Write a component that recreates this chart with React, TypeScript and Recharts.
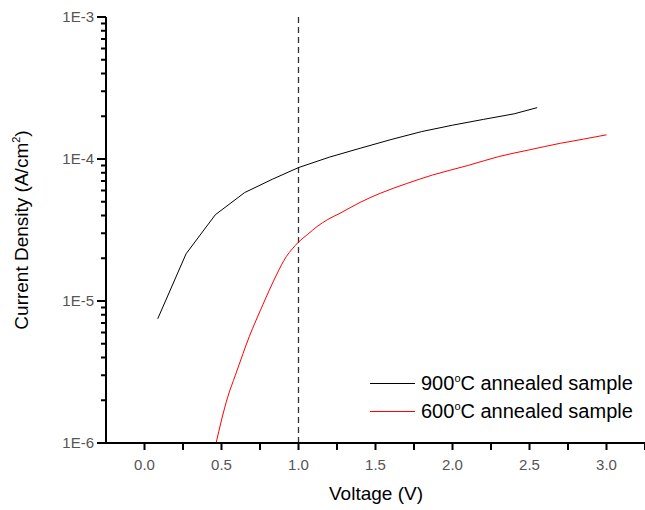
import { LineChart, Line, XAxis, YAxis, ReferenceLine } from 'recharts';

// 900 C annealed sample (V, A/cm^2)
const voltage900 = [0.086, 0.27, 0.46, 0.65, 0.83, 1.0, 1.2, 1.4, 1.6, 1.8, 2.0, 2.2, 2.4, 2.55];
const density900 = [7.5e-6, 2.15e-5, 4.05e-5, 5.8e-5, 7.2e-5, 8.7e-5, 1.03e-4, 1.19e-4, 1.37e-4, 1.56e-4, 1.73e-4, 1.9e-4, 2.08e-4, 2.3e-4];

// 600 C annealed sample
const voltage600 = [0.465, 0.5, 0.54, 0.59, 0.64, 0.68, 0.725, 0.77, 0.81, 0.86, 0.92, 0.96, 1.0, 1.06, 1.12, 1.19, 1.27, 1.4, 1.53, 1.7, 1.87, 2.1, 2.3, 2.5, 2.7, 2.85, 3.0];
const density600 = [1.0e-6, 1.45e-6, 2.1e-6, 3.0e-6, 4.27e-6, 5.6e-6, 7.34e-6, 9.5e-6, 1.19e-5, 1.55e-5, 2.05e-5, 2.33e-5, 2.6e-5, 2.95e-5, 3.34e-5, 3.75e-5, 4.15e-5, 4.95e-5, 5.73e-5, 6.7e-5, 7.71e-5, 9.0e-5, 1.04e-4, 1.16e-4, 1.29e-4, 1.38e-4, 1.48e-4];

const seriesNames = ['900', '600'];
const seriesColors = ['#000000', '#ff0000'];

const xTicks = [-0.25, 0, 0.25, 0.5, 0.75, 1, 1.25, 1.5, 1.75, 2, 2.25, 2.5, 2.75, 3, 3.25];
const yTicks = [
  1e-6, 2e-6, 3e-6, 4e-6, 5e-6, 6e-6, 7e-6, 8e-6, 9e-6,
  1e-5, 2e-5, 3e-5, 4e-5, 5e-5, 6e-5, 7e-5, 8e-5, 9e-5,
  1e-4, 2e-4, 3e-4, 4e-4, 5e-4, 6e-4, 7e-4, 8e-4, 9e-4,
  1e-3,
];

const data900 = voltage900.map((v, i) => ({ v, j: density900[i] }));
const data600 = voltage600.map((v, i) => ({ v, j: density600[i] }));

const FONT = '"Liberation Sans", Arial, sans-serif';

const renderXTick = (props: any) => {
  const { x, y, payload } = props;
  const v = payload.value;
  if (v < 0) return <g />;
  const major = Math.abs(v * 2 - Math.round(v * 2)) < 1e-6;
  return (
    <g>
      <rect x={x - 1} y={y} width={2} height={7} fill="#000" />
      {major && (
        <text x={x} y={y + 27} textAnchor="middle" fontSize={15} fill="#555" fontFamily={FONT}>
          {v.toFixed(1)}
        </text>
      )}
    </g>
  );
};

const renderYTick = (props: any) => {
  const { x, y, payload } = props;
  const lg = Math.log10(payload.value);
  const major = Math.abs(lg - Math.round(lg)) < 1e-6;
  const len = major ? 9 : 5;
  return (
    <g>
      <rect x={x - len} y={y - 1} width={len} height={2} fill="#000" />
      {major && (
        <text x={x - 12} y={y + 5} textAnchor="end" fontSize={15} fill="#555" fontFamily={FONT}>
          {`1E${Math.round(lg)}`}
        </text>
      )}
    </g>
  );
};

function Titles() {
  return (
    <svg width={645} height={510} style={{ position: 'absolute', left: 0, top: 0, pointerEvents: 'none' }}>
      <text x={376} y={500} textAnchor="middle" fontSize={19} fill="#000" fontFamily={FONT}>
        Voltage (V)
      </text>
      <text transform="translate(28,230) rotate(-90)" textAnchor="middle" fontSize={19} fill="#000" fontFamily={FONT}>
        Current Density (A/cm
        <tspan fontSize={11} dy={-8}>2</tspan>
        <tspan dy={8}>)</tspan>
      </text>
    </svg>
  );
}

function LegendBox() {
  return (
    <div style={{ position: 'absolute', left: 370, top: 370, fontFamily: FONT }}>
      {seriesNames.map((name, i) => (
        <div key={name} style={{ display: 'flex', alignItems: 'center', height: 27.5 }}>
          <div style={{ width: 45, height: 0, borderTop: `1px solid ${seriesColors[i]}`, marginRight: 6 }} />
          <span style={{ fontSize: 20, color: '#000', whiteSpace: 'nowrap' }}>
            {name}
            <sup style={{ fontSize: 11 }}>o</sup>C annealed sample
          </span>
        </div>
      ))}
    </div>
  );
}

export default function App() {
  return (
    <div style={{ position: 'absolute', left: 0, top: 0 }}>
      <LineChart width={645} height={510} margin={{ top: 17, right: 0, bottom: 0, left: 0 }}>
        <XAxis
          dataKey="v"
          type="number"
          domain={[-0.25, 3.25]}
          ticks={xTicks}
          tick={renderXTick}
          tickLine={false}
          tickSize={0}
          tickMargin={0}
          interval={0}
          height={67}
          axisLine={{ stroke: '#000', strokeWidth: 2 }}
        />
        <YAxis
          dataKey="j"
          type="number"
          scale="log"
          domain={[1e-6, 1e-3]}
          allowDataOverflow
          ticks={yTicks}
          tick={renderYTick}
          tickLine={false}
          tickSize={0}
          tickMargin={0}
          interval={0}
          width={106}
          axisLine={{ stroke: '#000', strokeWidth: 2 }}
        />
        <ReferenceLine x={1} stroke="#333" strokeWidth={1.3} strokeDasharray="6 4" />
        <Line data={data900} dataKey="j" type="linear" stroke={seriesColors[0]} strokeWidth={1} dot={false} isAnimationActive={false} />
        <Line data={data600} dataKey="j" type="monotone" stroke={seriesColors[1]} strokeWidth={1} dot={false} isAnimationActive={false} />
      </LineChart>
      <Titles />
      <LegendBox />
    </div>
  );
}
